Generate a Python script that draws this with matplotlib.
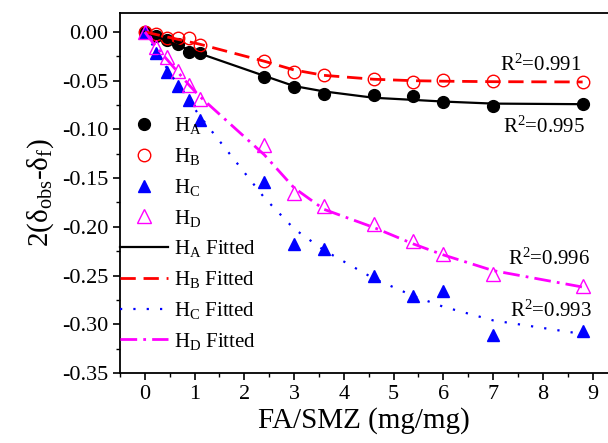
import numpy as np
import matplotlib
matplotlib.use("Agg")
import matplotlib.pyplot as plt

plt.rcParams['font.family'] = ['Liberation Serif', 'DejaVu Serif']
plt.rcParams['mathtext.fontset'] = 'custom'
plt.rcParams['mathtext.rm'] = 'Liberation Serif'
plt.rcParams['mathtext.it'] = 'Liberation Serif:italic'

# data
x = [0, 0.22, 0.44, 0.66, 0.88, 1.1, 2.4, 3.0, 3.6, 4.6, 5.4, 6.0, 7.0, 8.8]

ha = [0, -0.004, -0.008, -0.012, -0.0204, -0.022, -0.0459, -0.0561, -0.0639,
      -0.0645, -0.066, -0.072, -0.0758, -0.0738]
hb = [0, -0.0017, -0.0057, -0.006, -0.0057, -0.0136, -0.0299, -0.0415, -0.0442,
      -0.0483, -0.0517, -0.0493, -0.050, -0.0517]
hc = [0, -0.022, -0.0408, -0.0554, -0.0697, -0.0901, -0.154, -0.218, -0.2228,
      -0.2506, -0.2714, -0.2663, -0.3112, -0.307]
hd = [0, -0.0153, -0.026, -0.040, -0.0544, -0.0687, -0.1163, -0.1656, -0.1786,
      -0.1972, -0.2143, -0.2279, -0.2483, -0.2602]

# fitted curves, read at the same x
ha_fit = [0, -0.0045, -0.009, -0.0135, -0.018, -0.022, -0.045, -0.0555, -0.061,
          -0.0675, -0.0697, -0.0714, -0.0735, -0.0741]
hb_fit = [0, -0.0025, -0.005, -0.0075, -0.010, -0.0125, -0.030, -0.039, -0.0445,
          -0.0485, -0.050, -0.0505, -0.051, -0.0513]
hc_fit = [0, -0.019, -0.037, -0.054, -0.070, -0.086, -0.170, -0.202, -0.224,
          -0.253, -0.271, -0.282, -0.296, -0.310]
hd_fit = [0, -0.015, -0.028, -0.041, -0.054, -0.066, -0.126, -0.160, -0.182,
          -0.2006, -0.2176, -0.2288, -0.2449, -0.2618]

y_ticks = [0.0, -0.05, -0.10, -0.15, -0.20, -0.25, -0.30, -0.35]
y_ticklabels = ['0.00', '-0.05', '-0.10', '-0.15', '-0.20', '-0.25', '-0.30', '-0.35']

r2_text = ['R$^2$=0.991', 'R$^2$=0.995', 'R$^2$=0.996', 'R$^2$=0.993']
r2_pos = [(7.13, -0.034), (7.2, -0.098), (7.3, -0.233), (7.34, -0.287)]

fig = plt.figure(figsize=(6.08, 4.43), dpi=100)
ax = fig.add_axes([120/608, 70/443, 488/608, 360.5/443])

p1, = ax.plot(x, ha, 'o', color='black', ms=8.5, ls='none', label='H$_\\mathrm{A}$')
p2, = ax.plot(x, hb, 'o', mfc='none', mec='red', ms=9, mew=1.0, ls='none', label='H$_\\mathrm{B}$')
p3, = ax.plot(x, hc, '^', color='blue', ms=9, ls='none', label='H$_\\mathrm{C}$')
p4, = ax.plot(x, hd, '^', mfc='none', mec='magenta', ms=9.5, mew=1.0, ls='none', label='H$_\\mathrm{D}$')

l1, = ax.plot(x, ha_fit, '-', color='black', lw=1.6, label='H$_\\mathrm{A}$ Fitted')
l2, = ax.plot(x, hb_fit, color='red', lw=2.0, dashes=(5.5, 2.8), label='H$_\\mathrm{B}$ Fitted')
l3, = ax.plot(x, hc_fit, color='blue', lw=1.6, dashes=(1, 5), label='H$_\\mathrm{C}$ Fitted')
l4, = ax.plot(x, hd_fit, color='magenta', lw=2.0, dashes=(6, 2.2, 1, 2.2), label='H$_\\mathrm{D}$ Fitted')

for t, (tx, ty) in zip(r2_text, r2_pos):
    ax.text(tx, ty, t, fontsize=15, va='center', ha='left')

ax.set_xlim(-0.5, 9.31)
ax.set_ylim(-0.35, 0.02)
ax.set_xticks(range(0, 10))
ax.set_xticks(np.arange(-0.5, 9.3, 0.5), minor=True)
ax.set_yticks(y_ticks)
ax.set_yticklabels(y_ticklabels)
ax.set_yticks(np.arange(-0.35, 0.02, 0.025), minor=True)
ax.tick_params(which='major', direction='out', length=5, width=1.2, labelsize=16)
ax.tick_params(which='minor', direction='out', length=3, width=1.0)
ax.spines['right'].set_visible(False)
for s in ['left', 'top', 'bottom']:
    ax.spines[s].set_linewidth(1.3)

ax.set_xlabel('FA/SMZ (mg/mg)', fontsize=21, labelpad=2)
ax.set_ylabel('2(δ$_\\mathrm{obs}$-δ$_\\mathrm{f}$)', fontsize=21, labelpad=4)

ax.legend(handles=[p1, p2, p3, p4, l1, l2, l3, l4], loc='upper left',
          bbox_to_anchor=(0, 0.715), frameon=False, fontsize=15,
          borderaxespad=0, borderpad=0, handlelength=2.3, handletextpad=0.3,
          labelspacing=0.47)

fig.savefig('out.png', dpi=100)
